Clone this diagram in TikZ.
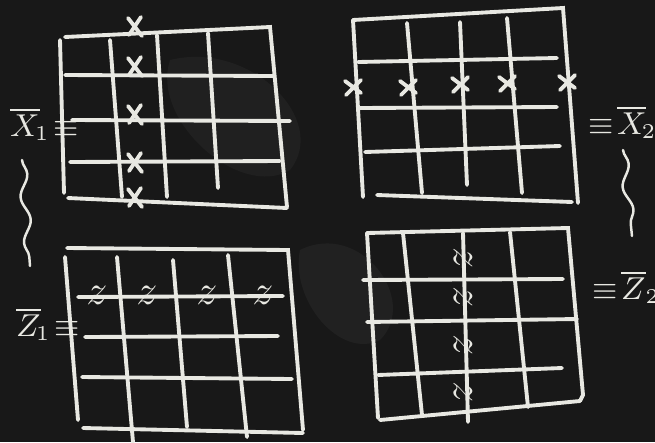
\documentclass[tikz,border=0pt]{standalone}
\usetikzlibrary{decorations.pathmorphing}
\definecolor{board}{RGB}{24,24,24}
\definecolor{smudge}{RGB}{40,40,40}
\definecolor{chalk}{RGB}{232,232,226}
\tikzset{
  chalkline/.style={chalk,line width=1.1pt,line cap=round},
  chalklabel/.style={text=chalk,inner sep=1pt,anchor=west,font=\small},
  zmark/.style={text=chalk,inner sep=0pt,font=\large},
  squiggle/.style={chalkline,line width=0.7pt,decorate,decoration={snake,amplitude=1.2pt,segment length=13pt}}
}
\begin{document}
\begin{tikzpicture}[x=0.01cm,y=-0.01cm]
\useasboundingbox (0,0) rectangle (655,442);
\clip (0,0) rectangle (655,442);
% board
\fill[board] (0,0) rectangle (655,442);
\fill[smudge,opacity=0.6] (300,250) .. controls (360,220) and (420,300) .. (380,340) .. controls (340,360) and (290,300) .. (300,250);
\fill[smudge,opacity=0.5] (170,60) .. controls (250,40) and (330,120) .. (290,170) .. controls (240,200) and (150,120) .. (170,60);

% top left grid
\draw[chalkline] (65,37) -- (270,27) -- (287,207);
\draw[chalkline] (60,40) -- (64,193);
\draw[chalkline] (68,198) -- (287,208);
\draw[chalkline] (65,75) -- (273,76);
\draw[chalkline] (72,120) -- (290,121);
\draw[chalkline] (70,162) -- (280,161);
\draw[chalkline] (110,40) -- (122,197);
\draw[chalkline] (157,35) -- (167,197);
\draw[chalkline] (208,33) -- (218,188);
\foreach \y in {27,67,115,163,198}
  \draw[chalkline] (128,\y-9) -- (142,\y+9) (141,\y-10) -- (129,\y+8);
\node[chalklabel] (xone) at (6,124) {$\overline{X}_{\!1}\!\equiv$};

% top right grid
\draw[chalkline] (353,20) -- (563,8) -- (578,203);
\draw[chalkline] (353,20) -- (363,197);
\draw[chalkline] (377,195) -- (572,202);
\draw[chalkline] (358,62) -- (557,58);
\draw[chalkline] (358,108) -- (557,107);
\draw[chalkline] (365,152) -- (560,146);
\draw[chalkline] (407,23) -- (422,193);
\draw[chalkline] (460,22) -- (467,185);
\draw[chalkline] (507,18) -- (522,193);
\foreach \x/\y in {353/87,408/87,460/84,507/83,567/82}
  \draw[chalkline] (\x-8,\y-6) -- (\x+8,\y+6) (\x+8,\y-7) -- (\x-7,\y+8);
\node[chalklabel] (xtwo) at (584,122) {$\equiv\!\overline{X}_{\!2}$};

% bottom left grid
\draw[chalkline] (67,248) -- (288,250) -- (303,430);
\draw[chalkline] (65,257) -- (78,420);
\draw[chalkline] (83,428) -- (303,433);
\draw[chalkline] (78,297) -- (283,296);
\draw[chalkline] (85,337) -- (278,336);
\draw[chalkline] (82,377) -- (292,379);
\draw[chalkline] (117,257) -- (133,442);
\draw[chalkline] (173,260) -- (187,427);
\draw[chalkline] (228,255) -- (247,437);
\foreach \x in {97,147,207,263}
  \node[zmark] at (\x,295) {$z$};
\node[chalklabel] (zone) at (12,324) {$\overline{Z}_{\!1}\!\equiv$};

% bottom right grid
\draw[chalkline] (367,233) -- (568,228) -- (583,395) -- (580,401);
\draw[chalkline] (367,233) -- (378,418);
\draw[chalkline] (380,420) -- (580,401);
\draw[chalkline] (363,280) -- (563,279);
\draw[chalkline] (367,322) -- (577,319);
\draw[chalkline] (378,375) -- (562,368);
\draw[chalkline] (403,233) -- (422,415);
\draw[chalkline] (463,233) -- (468,422);
\draw[chalkline] (510,232) -- (528,407);
\foreach \y in {258,297,345,392}
  \node[zmark,rotate=-90] at (463,\y) {$z$};
\node[chalklabel] (ztwo) at (588,287) {$\equiv\!\overline{Z}_{2}$};

% squiggles between the pairs
\draw[squiggle] (22,160) -- (30,266);
\draw[squiggle] (623,150) -- (632,236);
\end{tikzpicture}
\end{document}
